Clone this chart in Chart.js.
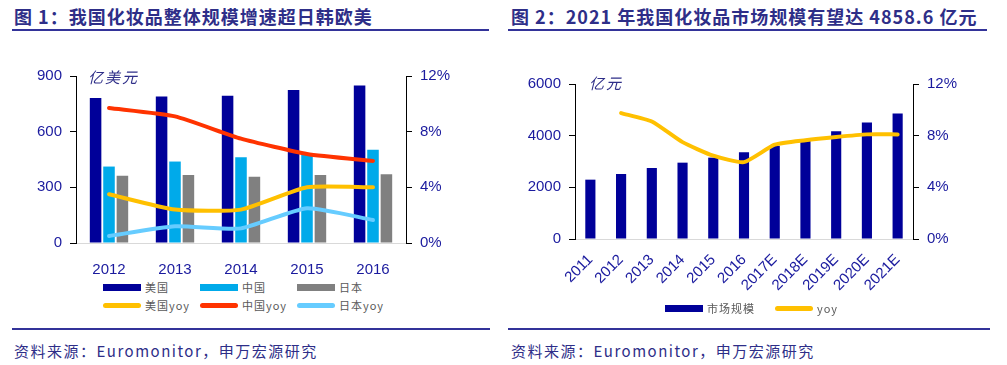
<!DOCTYPE html>
<html>
<head>
<meta charset="utf-8">
<script src="https://cdn.jsdelivr.net/npm/chart.js@4/dist/chart.umd.min.js"></script>
<style>
  html, body { margin: 0; padding: 0; background: #fff; }
  body { width: 1007px; height: 365px; position: relative; overflow: hidden;
         font-family: "Liberation Sans", Arial, sans-serif; }
  .title { position: absolute; top: 3px; font: bold 18px "Noto Sans CJK SC", sans-serif;
           color: #2e2e88; white-space: nowrap; letter-spacing: 1px; }
  .rule { position: absolute; height: 2px; background: #333399; }
  .source { position: absolute; top: 340px; font: 15px "Noto Sans CJK SC", sans-serif;
            color: #2e2e88; white-space: nowrap; letter-spacing: 1.5px; }
  .box { position: absolute; }
  .unit { position: absolute; font: italic 15px "Noto Sans CJK SC", sans-serif; color: #2e2e88;
          letter-spacing: 2px; }
  .legend { position: absolute; font: 11px "Noto Sans CJK SC", sans-serif; color: #595959; }
  .item { position: absolute; display: flex; align-items: center; white-space: nowrap; letter-spacing: 1px; }
  .sw { width: 38px; margin-right: 4px; }
</style>
</head>
<body>

<div class="title" style="left:14px">图 1：我国化妆品整体规模增速超日韩欧美</div>
<div class="rule" style="left:12px; width:477px; top:29px"></div>
<div class="title" style="left:511px">图 2：2021 年我国化妆品市场规模有望达 4858.6 亿元</div>
<div class="rule" style="left:508px; width:479px; top:29px"></div>

<div class="box" style="left:20px; top:59px; width:440px; height:217px"><canvas id="c1"></canvas></div>
<div class="unit" style="left:88px; top:66px">亿美元</div>
<div class="legend" id="lg1"></div>

<div class="box" style="left:520px; top:67px; width:460px; height:234px"><canvas id="c2"></canvas></div>
<div class="unit" style="left:589px; top:72px">亿元</div>
<div class="legend" id="lg2"></div>

<div class="rule" style="left:12px; width:478px; top:328px"></div>
<div class="source" style="left:14px">资料来源：Euromonitor，申万宏源研究</div>
<div class="rule" style="left:508px; width:482px; top:328px"></div>
<div class="source" style="left:511px">资料来源：Euromonitor，申万宏源研究</div>

<script>
// chart 1 data
const years1 = ['2012', '2013', '2014', '2015', '2016'];
const usSize = [781, 790, 794, 824, 849];
const cnSize = [412, 439, 462, 478, 503];
const jpSize = [362, 366, 357, 366, 371];
const usYoy = [3.5, 2.4, 2.4, 4.0, 4.0];
const cnYoy = [9.7, 9.1, 7.5, 6.4, 5.9];
const jpYoy = [0.5, 1.2, 1.05, 2.5, 1.65];

// chart 2 data
const years2 = ['2011', '2012', '2013', '2014', '2015', '2016', '2017E', '2018E', '2019E', '2020E', '2021E'];
const marketSize = [2297, 2516, 2748, 2955, 3150, 3355, 3605, 3870, 4170, 4505, 4858.6];
const marketYoy = [null, 9.75, 9.1, 7.5, 6.45, 5.95, 7.3, 7.65, 7.9, 8.1, 8.1];

const tickColor = '#1a1a9e';
const tickFont = { family: 'Liberation Sans, Arial, sans-serif', size: 15 };

function fixWidth(w) { return (scale) => { scale.width = w; }; }
function fixHeight(h) { return (scale) => { scale.height = h; }; }

function yAxis(pos, min, max, step, width, fmt) {
  return {
    position: pos, min: min, max: max,
    afterFit: fixWidth(width),
    border: { display: true, color: '#000', width: 1 },
    grid: { drawOnChartArea: false, drawTicks: true, tickLength: 6, color: '#000' },
    ticks: { stepSize: step, padding: 8, color: tickColor, font: tickFont, callback: fmt }
  };
}

const chart1 = new Chart(document.getElementById('c1'), {
  data: {
    labels: years1,
    datasets: [
      { type: 'bar', label: '美国', data: usSize, backgroundColor: '#000099', yAxisID: 'y', order: 2,
        categoryPercentage: 0.61, barPercentage: 0.86 },
      { type: 'bar', label: '中国', data: cnSize, backgroundColor: '#00aaea', yAxisID: 'y', order: 2,
        categoryPercentage: 0.61, barPercentage: 0.86 },
      { type: 'bar', label: '日本', data: jpSize, backgroundColor: '#808080', yAxisID: 'y', order: 2,
        categoryPercentage: 0.61, barPercentage: 0.86 },
      { type: 'line', label: '美国yoy', data: usYoy, borderColor: '#ffc000', yAxisID: 'y1', order: 1 },
      { type: 'line', label: '中国yoy', data: cnYoy, borderColor: '#ff3300', yAxisID: 'y1', order: 1 },
      { type: 'line', label: '日本yoy', data: jpYoy, borderColor: '#66ccff', yAxisID: 'y1', order: 1 }
    ]
  },
  options: {
    responsive: true, maintainAspectRatio: false, animation: false,
    layout: { padding: { top: 10, left: 0, right: 0, bottom: 0 } },
    elements: {
      line: { borderWidth: 4, tension: 0.18, borderCapStyle: 'round', fill: false },
      point: { radius: 0 }
    },
    plugins: { legend: { display: false }, tooltip: { enabled: false } },
    scales: {
      x: {
        afterFit: fixHeight(33),
        border: { display: true, color: '#d9d9d9', width: 1 },
        grid: { display: false },
        ticks: { padding: 10, color: tickColor, font: tickFont }
      },
      y: yAxis('left', 0, 900, 300, 56),
      y1: yAxis('right', 0, 12, 4, 54, (v) => v + '%')
    }
  }
});

const chart2 = new Chart(document.getElementById('c2'), {
  data: {
    labels: years2,
    datasets: [
      { type: 'bar', label: '市场规模', data: marketSize, backgroundColor: '#000099', yAxisID: 'y', order: 2,
        categoryPercentage: 1, barPercentage: 0.33 },
      { type: 'line', label: 'yoy', data: marketYoy, borderColor: '#ffc000', yAxisID: 'y1', order: 1 }
    ]
  },
  options: {
    responsive: true, maintainAspectRatio: false, animation: false,
    layout: { padding: { top: 8, left: 0, right: 0, bottom: 0 } },
    elements: {
      line: { borderWidth: 4, tension: 0.18, borderCapStyle: 'round', fill: false },
      point: { radius: 0 }
    },
    plugins: { legend: { display: false }, tooltip: { enabled: false } },
    scales: {
      x: {
        afterFit: fixHeight(62),
        border: { display: true, color: '#d9d9d9', width: 1 },
        grid: { display: false },
        ticks: { padding: 4, color: tickColor, font: { family: 'Liberation Sans, Arial, sans-serif', size: 15 },
                 minRotation: 45, maxRotation: 45, autoSkip: false }
      },
      y: yAxis('left', 0, 6000, 2000, 55),
      y1: yAxis('right', 0, 12, 4, 67, (v) => v + '%')
    }
  }
});

// HTML legends built from the datasets
function buildLegend(el, chart, slots) {
  chart.data.datasets.forEach((ds, i) => {
    const s = slots[i];
    const item = document.createElement('div');
    item.className = 'item';
    item.style.left = s[0] + 'px';
    item.style.top = (s[1] - 8) + 'px';
    item.style.height = '16px';
    const sw = document.createElement('div');
    sw.className = 'sw';
    if (ds.type === 'bar') {
      sw.style.height = '7px';
      sw.style.background = ds.backgroundColor;
    } else {
      sw.style.height = '5px';
      sw.style.borderRadius = '3px';
      sw.style.background = ds.borderColor;
    }
    const txt = document.createElement('span');
    txt.textContent = ds.label;
    item.appendChild(sw);
    item.appendChild(txt);
    el.appendChild(item);
  });
}

buildLegend(document.getElementById('lg1'), chart1,
  [[103, 287], [200, 287], [297, 287], [103, 305], [200, 305], [297, 305]]);
buildLegend(document.getElementById('lg2'), chart2,
  [[665, 308], [775, 308]]);
</script>
</body>
</html>
